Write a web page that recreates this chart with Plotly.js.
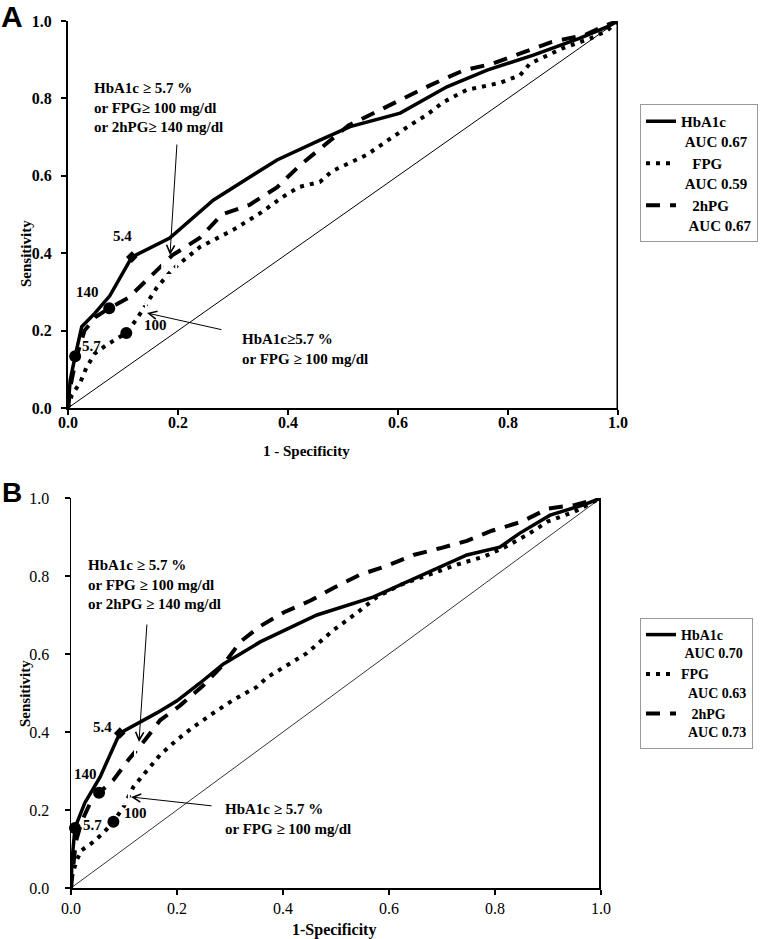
<!DOCTYPE html>
<html><head><meta charset="utf-8">
<script src="https://cdn.plot.ly/plotly-3.0.1.min.js"></script>
<style>html,body{margin:0;padding:0;background:#fff}</style>
</head><body><div id="chart" style="width:772px;height:939px"></div>
<script>
// ---------- Panel A data ----------
const hba1cA_x = [0,0.004,0.013,0.025,0.049,0.076,0.116,0.185,0.264,0.38,0.458,0.513,0.604,0.689,0.762,0.846,0.931,0.98,1];
const hba1cA_y = [0,0.072,0.134,0.21,0.245,0.29,0.39,0.439,0.537,0.641,0.692,0.727,0.762,0.83,0.873,0.912,0.956,0.985,1];
const fpgA_x = [0,0.007,0.022,0.034,0.049,0.07,0.106,0.125,0.143,0.161,0.185,0.2,0.24,0.3,0.35,0.39,0.42,0.458,0.48,0.543,0.58,0.622,0.652,0.682,0.725,0.785,0.822,0.84,0.9,0.95,0.98,1];
const fpgA_y = [0,0.034,0.065,0.106,0.141,0.163,0.194,0.23,0.27,0.31,0.35,0.37,0.416,0.46,0.504,0.545,0.571,0.584,0.612,0.654,0.69,0.731,0.757,0.79,0.822,0.84,0.86,0.89,0.93,0.955,0.975,1];
const twohA_x = [0,0.005,0.015,0.03,0.05,0.075,0.11,0.15,0.19,0.24,0.28,0.33,0.38,0.42,0.46,0.51,0.56,0.61,0.66,0.72,0.77,0.83,0.88,0.94,0.98,1];
const twohA_y = [0,0.06,0.13,0.2,0.235,0.258,0.285,0.34,0.395,0.44,0.5,0.525,0.57,0.625,0.672,0.73,0.765,0.8,0.835,0.873,0.889,0.92,0.946,0.964,0.99,1];
const cutA_x = [0.013,0.075,0.106];      // HbA1c 5.7, 2hPG 140, FPG 100
const cutA_y = [0.134,0.258,0.194];
const diamA_x = [0.116], diamA_y = [0.39]; // HbA1c 5.4
const combA_x = [0.129,0.184], combA_y = [0.25,0.362];
const aucA = ['0.67','0.59','0.67'];

// ---------- Panel B data ----------
const hba1cB_x = [0,0.002,0.0075,0.026,0.055,0.092,0.162,0.2,0.243,0.287,0.357,0.464,0.57,0.621,0.683,0.747,0.809,0.847,0.904,0.966,1];
const hba1cB_y = [0,0.072,0.154,0.218,0.285,0.397,0.449,0.48,0.525,0.574,0.631,0.7,0.746,0.777,0.815,0.854,0.874,0.91,0.956,0.982,1];
const fpgB_x = [0,0.001,0.011,0.02,0.039,0.061,0.08,0.099,0.118,0.143,0.168,0.2,0.231,0.268,0.306,0.35,0.37,0.445,0.495,0.539,0.577,0.621,0.683,0.73,0.78,0.82,0.86,0.9,0.95,1];
const fpgB_y = [0,0.028,0.072,0.097,0.115,0.141,0.17,0.208,0.26,0.302,0.341,0.38,0.413,0.448,0.482,0.515,0.54,0.602,0.661,0.705,0.746,0.777,0.808,0.83,0.85,0.875,0.905,0.94,0.965,1];
const twohB_x = [0,0.004,0.009,0.02,0.039,0.053,0.08,0.108,0.14,0.168,0.205,0.25,0.287,0.32,0.358,0.402,0.452,0.496,0.545,0.596,0.646,0.696,0.747,0.794,0.85,0.9,0.951,1];
const twohB_y = [0,0.06,0.118,0.17,0.226,0.244,0.277,0.328,0.38,0.43,0.467,0.52,0.572,0.632,0.672,0.707,0.737,0.77,0.803,0.826,0.854,0.871,0.89,0.916,0.939,0.973,0.982,1];
const cutB_x = [0.0075,0.053,0.08];
const cutB_y = [0.154,0.244,0.17];
const diamB_x = [0.092], diamB_y = [0.397];
const combB_x = [0.096,0.134], combB_y = [0.233,0.344];
const aucB = ['0.70','0.63','0.73'];

const diag_x = [0,1], diag_y = [0,1];
const edge_x = [1,1], edge_y = [0,1];
const tickVals = [0,0.2,0.4,0.6,0.8,1.0];
const tickText = ['0.0','0.2','0.4','0.6','0.8','1.0'];
const cutLabels = ['5.7','140','100','5.4'];

// ---------- helpers ----------
const W = 772, H = 939;
const px = v => v / W, py = v => 1 - v / H;
const F = 'Liberation Serif';
const NB = '\u00a0';
const sp = n => NB.repeat(n);
const SOLID = {color:'black', width:3.5};
const DOT = {color:'black', width:4, dash:'4px,6px'};
const DASH = {color:'black', width:4, dash:'14px,10px'};

function line(x, y, xa, ya, l, extra) {
  return Object.assign({x, y, xaxis: xa, yaxis: ya, type:'scatter', mode:'lines', line: l, showlegend:false, hoverinfo:'skip', cliponaxis:false}, extra || {});
}
function marks(x, y, xa, ya, sym, size, lw) {
  return {x, y, xaxis: xa, yaxis: ya, type:'scatter', mode:'markers', showlegend:false, cliponaxis:false,
    marker:{symbol:sym, size, color: sym.indexOf('open')>=0 ? 'white':'black', line:{color:'black', width:lw}}};
}

const data = [
  line(diag_x, diag_y, 'x', 'y', {color:'black', width:1}),
  line(edge_x, edge_y, 'x', 'y', {color:'black', width:3}),
  line(hba1cA_x, hba1cA_y, 'x', 'y', SOLID, {showlegend:true, legend:'legend', name:'HbA1c<br>' + sp(1) + 'AUC ' + aucA[0]}),
  line(fpgA_x, fpgA_y, 'x', 'y', DOT, {showlegend:true, legend:'legend', name:sp(3)+'FPG<br>' + sp(1) + 'AUC ' + aucA[1]}),
  line(twohA_x, twohA_y, 'x', 'y', DASH, {showlegend:true, legend:'legend', name:sp(3)+'2hPG<br>' + sp(2) + 'AUC ' + aucA[2]}),
  marks(cutA_x, cutA_y, 'x', 'y', 'circle', 12, 0),
  marks(diamA_x, diamA_y, 'x', 'y', 'diamond', 9, 0),
  marks(combA_x, combA_y, 'x', 'y', 'square-open', 14, 2),

  line(diag_x, diag_y, 'x2', 'y2', {color:'black', width:0.8}),
  line(edge_x, edge_y, 'x2', 'y2', {color:'black', width:4}),
  line(hba1cB_x, hba1cB_y, 'x2', 'y2', SOLID, {showlegend:true, legend:'legend2', name:'HbA1c<br>' + sp(1) + 'AUC ' + aucB[0]}),
  line(fpgB_x, fpgB_y, 'x2', 'y2', DOT, {showlegend:true, legend:'legend2', name:'FPG<br>' + sp(2) + 'AUC ' + aucB[1]}),
  line(twohB_x, twohB_y, 'x2', 'y2', DASH, {showlegend:true, legend:'legend2', name:sp(3)+'2hPG<br>' + sp(2) + 'AUC ' + aucB[2]}),
  marks(cutB_x, cutB_y, 'x2', 'y2', 'circle', 12, 0),
  marks(diamB_x, diamB_y, 'x2', 'y2', 'diamond', 9, 0),
  marks(combB_x, combB_y, 'x2', 'y2', 'square-open', 14, 2),
];

function axis(domain, anchor, bold, lw, standoff) {
  return {domain, anchor, range:[0,1], tickmode:'array', tickvals:tickVals,
    ticktext: tickText.map(t => bold ? '<b>' + t + '</b>' : t),
    ticks:'outside', ticklen:5,
    tickwidth:lw, tickcolor:'black', showline:true, linecolor:'black', linewidth:lw, showgrid:false, zeroline:false,
    fixedrange:true, ticklabelstandoff: standoff,
    tickfont:{family:F, size:16, color:'black'}};
}

function legendCfg(x, y, size) {
  return {x:px(x), y:py(y), xanchor:'left', yanchor:'top', bordercolor:'#9a9a9a', borderwidth:1, bgcolor:'white',
    font:{family:F, size, color:'black', weight:'bold'}, itemwidth:30, valign:'top', tracegroupgap:0};
}

function txt(text, x, y, opts) {
  return Object.assign({text, xref:'paper', yref:'paper', x:px(x), y:py(y), xanchor:'center', yanchor:'middle', showarrow:false,
    font:{family:F, size:15, color:'black', weight:'bold'}}, opts || {});
}
function arrow(tailX, tailY, tipX, tipY) {
  return {text:'', xref:'paper', yref:'paper', x:px(tipX), y:py(tipY), ax:tailX - tipX, ay:tailY - tipY,
    showarrow:true, arrowhead:5, arrowsize:1.6, arrowwidth:1, arrowcolor:'black'};
}

const annotations = [
  txt('A', 12, 16, {font:{family:'Liberation Sans', size:30, color:'black', weight:'bold'}}),
  txt('B', 12, 492, {font:{family:'Liberation Sans', size:28, color:'black', weight:'bold'}}),
  txt('Sensitivity', 26, 254, {textangle:-90}),
  txt('1 - Specificity', 306, 451),
  txt('Sensitivity', 25, 693, {textangle:-90}),
  txt('1-Specificity', 334, 930, {font:{family:F, size:16, color:'black', weight:'bold'}}),
  txt(cutLabels[0], 91, 346), txt(cutLabels[1], 87, 292), txt(cutLabels[2], 155, 325), txt(cutLabels[3], 122, 236),
  txt(cutLabels[0], 92, 825), txt(cutLabels[1], 85, 774), txt(cutLabels[2], 135, 813), txt(cutLabels[3], 102, 727),
  txt('HbA1c ≥ 5.7 %<br>or FPG≥ 100 mg/dl<br>or 2hPG≥ 140 mg/dl', 92, 108, {xanchor:'left', align:'left'}),
  txt('HbA1c≥5.7 %<br>or FPG ≥ 100 mg/dl', 240, 349, {xanchor:'left', align:'left'}),
  txt('HbA1c ≥ 5.7 %<br>or FPG ≥ 100 mg/dl<br>or 2hPG ≥ 140 mg/dl', 86, 584, {xanchor:'left', align:'left'}),
  txt('HbA1c ≥ 5.7 %<br>or FPG ≥ 100 mg/dl', 223, 819, {xanchor:'left', align:'left'}),
  arrow(177, 143, 170, 255),
  arrow(223, 330, 147, 313),
  arrow(147, 623, 139, 742),
  arrow(213, 806, 131, 797),
];

const layout = {
  width: W, height: H, margin:{l:0, r:0, t:0, b:0},
  paper_bgcolor:'white', plot_bgcolor:'white',
  font:{family:F, color:'black'},
  xaxis: axis([px(68), px(618)], 'y', true, 2, -6),
  yaxis: axis([py(408), py(21)], 'x', true, 2, 6),
  xaxis2: axis([px(71), px(601)], 'y2', false, 1.5, 0),
  yaxis2: axis([py(888), py(498)], 'x2', false, 1.5, 12),
  legend: legendCfg(640, 104, 15),
  legend2: legendCfg(640, 618, 14),
  annotations,
  showlegend:true
};

Plotly.newPlot('chart', data, layout, {displayModeBar:false, staticPlot:true});
</script></body></html>
